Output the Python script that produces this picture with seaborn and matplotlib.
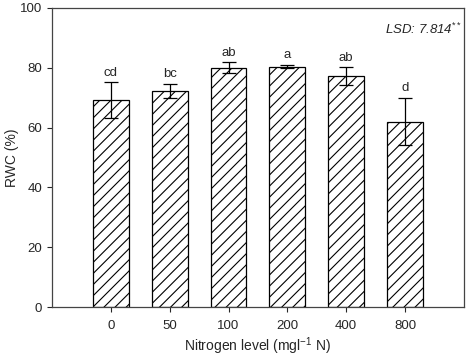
import pandas as pd
import numpy as np
import matplotlib
matplotlib.use('Agg')
import matplotlib.pyplot as plt
import seaborn as sns

# ======== data ========
levels = ['0', '50', '100', '200', '400', '800']
rwc = [69.2, 72.3, 80.0, 80.4, 77.2, 62.0]
sd = [6.0, 2.4, 1.8, 0.6, 2.9, 7.9]
letters = ['cd', 'bc', 'ab', 'a', 'ab', 'd']

df = pd.DataFrame({'level': levels, 'rwc': rwc})

sns.set_style('ticks')
plt.rcParams['font.family'] = ['Liberation Sans', 'DejaVu Sans']
plt.rcParams['mathtext.fontset'] = 'custom'
plt.rcParams['mathtext.rm'] = 'Liberation Sans'
plt.rcParams['mathtext.it'] = 'Liberation Sans:italic'
plt.rcParams['hatch.linewidth'] = 0.8

fig = plt.figure(figsize=(4.74, 3.6), dpi=100)
ax = fig.add_axes([0.1097, 0.147, 0.869, 0.831])

sns.barplot(data=df, x='level', y='rwc', order=levels, color='white',
            edgecolor='black', linewidth=0.9, width=0.61, errorbar=None, ax=ax)
for p in ax.patches:
    p.set_hatch('///')

x = np.arange(len(levels))
ax.errorbar(x, rwc, yerr=sd, fmt='none', ecolor='black', elinewidth=0.9,
            capsize=5, capthick=0.9)
for xi, v, s, lab in zip(x, rwc, sd, letters):
    ax.text(xi, v + s + 1.2, lab, ha='center', va='bottom', fontsize=9.5)

ax.text(0.995, 0.955, 'LSD: 7.814$^{**}$', transform=ax.transAxes,
        ha='right', va='top', fontsize=9.5, style='italic')

ax.set_xlim(-1, 6)
ax.set_ylim(0, 100)
ax.set_yticks([0, 20, 40, 60, 80, 100])
ax.set_xlabel('Nitrogen level (mgl$^{-1}$ N)', fontsize=10, labelpad=2)
ax.set_ylabel('RWC (%)', fontsize=10, labelpad=1)
ax.tick_params(axis='both', labelsize=9.5, direction='out', length=3.5, width=0.8)
ax.tick_params(axis='x', pad=6)
for sp in ax.spines.values():
    sp.set_visible(True)
    sp.set_linewidth(0.9)
    sp.set_color('#444444')

fig.savefig('out.png', dpi=100)
